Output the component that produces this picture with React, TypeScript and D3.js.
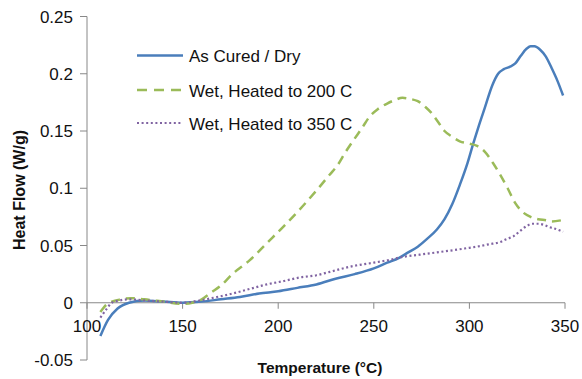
import React from "react";
import * as d3 from "d3";

const W = 582;
const H = 379;

const xTicks = [100, 150, 200, 250, 300, 350];
const yTicks = [-0.05, 0, 0.05, 0.1, 0.15, 0.2, 0.25];
const yTickLabels = ["-0.05", "0", "0.05", "0.1", "0.15", "0.2", "0.25"];

const seriesNames = ["As Cured / Dry", "Wet, Heated to 200 C", "Wet, Heated to 350 C"];

const dryT = [107, 111, 116, 122, 130, 140, 150, 160, 170, 180, 190, 200, 210, 220, 230, 240, 250, 257, 263, 268, 273, 278, 283, 287, 291, 295, 299, 302, 305, 308, 312, 315, 318, 321, 324, 327, 330, 332, 334, 337, 340, 343, 346, 349];
const dryV = [-0.029, -0.015, -0.005, 0.0, 0.002, 0.001, 0.0, 0.001, 0.003, 0.005, 0.008, 0.01, 0.013, 0.016, 0.021, 0.025, 0.03, 0.035, 0.039, 0.044, 0.049, 0.056, 0.064, 0.073, 0.086, 0.103, 0.122, 0.139, 0.155, 0.17, 0.19, 0.2, 0.204, 0.206, 0.209, 0.216, 0.222, 0.224, 0.224, 0.221, 0.215, 0.205, 0.194, 0.181];

const wet200T = [107, 110, 113, 118, 123, 130, 140, 150, 155, 160, 165, 170, 176, 185, 194, 203, 211, 220, 227, 231, 235, 239, 244, 248, 252, 257, 261, 265, 269, 273, 277, 280, 284, 287, 291, 295, 300, 304, 308, 312, 316, 320, 324, 328, 332, 336, 340, 343, 348];
const wet200V = [-0.008, -0.002, 0.001, 0.003, 0.004, 0.003, 0.001, -0.001, 0.0, 0.003, 0.009, 0.015, 0.025, 0.037, 0.052, 0.067, 0.081, 0.098, 0.112, 0.12, 0.131, 0.141, 0.153, 0.163, 0.169, 0.174, 0.177, 0.179, 0.178, 0.176, 0.171, 0.166, 0.157, 0.15, 0.145, 0.141, 0.139, 0.137, 0.132, 0.123, 0.112, 0.1, 0.087, 0.079, 0.075, 0.073, 0.072, 0.071, 0.072];

const wet350T = [107, 110, 113, 117, 122, 130, 140, 150, 159, 168, 176, 185, 194, 203, 211, 220, 227, 239, 250, 257, 265, 274, 283, 292, 300, 304, 310, 316, 320, 323, 326, 330, 333, 336, 339, 342, 346, 349];
const wet350V = [-0.013, -0.006, 0.0, 0.002, 0.003, 0.002, 0.001, 0.0, 0.002, 0.005, 0.008, 0.012, 0.016, 0.019, 0.022, 0.024, 0.027, 0.032, 0.035, 0.037, 0.04, 0.042, 0.044, 0.046, 0.048, 0.049, 0.051, 0.053, 0.056, 0.058, 0.062, 0.067, 0.069, 0.069, 0.068, 0.066, 0.064, 0.062];

const colors = ["#4a7ebb", "#9bbb59", "#8064a2"];
const dashes = ["none", "9,6", "2,2.6"];
const widths = [2.5, 2.5, 2.2];

export default function App() {
  const x = d3.scaleLinear().domain([100, 350]).range([87, 565]);
  const y = d3.scaleLinear().domain([-0.05, 0.25]).range([360, 16.5]);
  const line = d3
    .line<[number, number]>()
    .x((d) => x(d[0]))
    .y((d) => y(d[1]))
    .curve(d3.curveMonotoneX);

  const series = [
    d3.zip(dryT, dryV) as [number, number][],
    d3.zip(wet200T, wet200V) as [number, number][],
    d3.zip(wet350T, wet350V) as [number, number][],
  ];

  const axisColor = "#888";
  const font = "'Liberation Sans', Arial, sans-serif";
  const legendY = [55.5, 90, 123];

  return (
    <svg width={W} height={H} style={{ position: "absolute", left: 0, top: 0, background: "#fff" }} fontFamily={font}>
      <rect width={W} height={H} fill="#fff" />
      {/* Y axis */}
      <line x1={x(100)} x2={x(100)} y1={y(0.25)} y2={y(-0.05)} stroke={axisColor} strokeWidth={1} />
      {yTicks.map((t, i) => (
        <g key={"yt" + i}>
          <line x1={x(100) - 7} x2={x(100)} y1={y(t)} y2={y(t)} stroke={axisColor} strokeWidth={1} />
          <text x={73} y={y(t) + 6} textAnchor="end" fontSize={17} fill="#111">
            {yTickLabels[i]}
          </text>
        </g>
      ))}
      {/* X axis at y=0 */}
      <line x1={x(100)} x2={x(350)} y1={y(0)} y2={y(0)} stroke={axisColor} strokeWidth={1} />
      {xTicks.map((t) => (
        <g key={"xt" + t}>
          <line x1={x(t)} x2={x(t)} y1={y(0)} y2={y(0) + 6} stroke={axisColor} strokeWidth={1} />
          <text x={x(t)} y={332} textAnchor="middle" fontSize={17} fill="#111">
            {t}
          </text>
        </g>
      ))}
      {/* Series */}
      {series.map((s, i) => (
        <path
          key={"s" + i}
          d={line(s) || ""}
          fill="none"
          stroke={colors[i]}
          strokeWidth={widths[i]}
          strokeDasharray={dashes[i]}
          strokeLinejoin="round"
        />
      ))}
      {/* Legend */}
      {seriesNames.map((n, i) => (
        <g key={"lg" + i}>
          <line
            x1={137}
            x2={183}
            y1={legendY[i]}
            y2={legendY[i]}
            stroke={colors[i]}
            strokeWidth={widths[i]}
            strokeDasharray={i === 1 ? "10,7" : dashes[i]}
          />
          <text x={189} y={legendY[i] + 6.5} fontSize={17} fill="#111">
            {n}
          </text>
        </g>
      ))}
      {/* Axis titles */}
      <text x={320} y={373} textAnchor="middle" fontSize={15.5} fontWeight="bold" fill="#111">
        Temperature (°C)
      </text>
      <text
        transform={`translate(25, 190) rotate(-90)`}
        textAnchor="middle"
        fontSize={16}
        fontWeight="bold"
        fill="#111"
      >
        Heat Flow (W/g)
      </text>
    </svg>
  );
}
